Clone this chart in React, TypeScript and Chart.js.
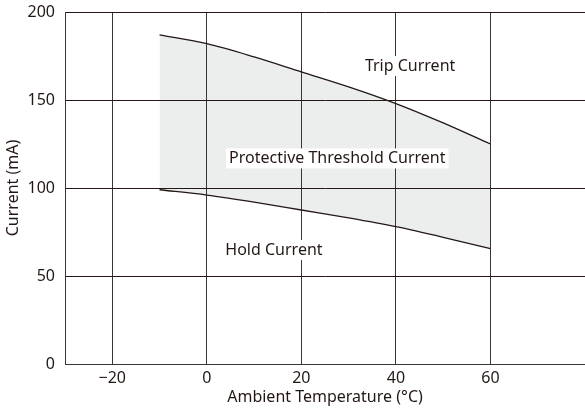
import React, { useEffect, useRef } from "react";
import { Chart, registerables } from "chart.js";

Chart.register(...registerables);

const temperatures = [-10, 0, 10, 20, 30, 40, 50, 60];
const tripCurrent = [187, 182, 174.5, 166, 157.5, 148, 137, 125];
const holdCurrent = [99, 96, 92, 87.5, 83, 78, 72, 65.5];
const xTicks = [-20, 0, 20, 40, 60];
const yTicks = [0, 50, 100, 150, 200];

const labelTexts = ["Trip Current", "Protective Threshold Current", "Hold Current"];
const labelX = [43, 27.6, 14.2];
const labelY = [169.3, 116.8, 64.8];

const FONT = "'Noto Sans', sans-serif";
const INK = "#231815";
const FS = 16;

const labelsPlugin = {
  id: "regionLabels",
  afterDatasetsDraw(chart: any) {
    const { ctx, scales } = chart;
    ctx.save();
    ctx.font = `${FS}px ${FONT}`;
    ctx.textAlign = "center";
    ctx.textBaseline = "middle";
    labelTexts.forEach((t, i) => {
      const px = scales.x.getPixelForValue(labelX[i]);
      const py = scales.y.getPixelForValue(labelY[i]);
      const w = ctx.measureText(t).width;
      ctx.fillStyle = "#ffffff";
      ctx.fillRect(px - w / 2 - 3, py - 10, w + 6, 20);
      ctx.fillStyle = INK;
      ctx.fillText(t, px, py);
    });
    ctx.restore();
  },
};

export default function App() {
  const ref = useRef<HTMLCanvasElement>(null);
  useEffect(() => {
    if (!ref.current) return;
    const chart = new Chart(ref.current, {
      type: "line",
      data: {
        datasets: [
          {
            label: "Trip Current",
            data: temperatures.map((t, i) => ({ x: t, y: tripCurrent[i] })),
            borderColor: INK,
            borderWidth: 1.3,
            pointRadius: 0,
            cubicInterpolationMode: "monotone",
            fill: "+1",
            backgroundColor: "#eceeed",
          },
          {
            label: "Hold Current",
            data: temperatures.map((t, i) => ({ x: t, y: holdCurrent[i] })),
            borderColor: INK,
            borderWidth: 1.3,
            pointRadius: 0,
            cubicInterpolationMode: "monotone",
            fill: false,
          },
        ],
      },
      options: {
        animation: false,
        responsive: false,
        maintainAspectRatio: false,
        layout: { padding: { top: 12, right: 0, left: 0, bottom: 0 } },
        plugins: {
          legend: { display: false },
          tooltip: { enabled: false },
          filler: { drawTime: "beforeDraw" } as any,
        },
        scales: {
          x: {
            type: "linear",
            min: -30,
            max: 80,
            afterBuildTicks: (s: any) => {
              s.ticks = xTicks.map((v) => ({ value: v }));
            },
            afterFit: (s: any) => {
              s.height = 48;
              s.paddingLeft = 0;
              s.paddingRight = 0;
            },
            grid: { color: "#3a3434", lineWidth: 1, drawTicks: false },
            border: { color: "#3a3434", width: 1 },
            ticks: {
              color: INK,
              font: { family: FONT, size: FS },
              padding: 5,
              callback: (v: any) => (Number(v) < 0 ? "\u2212" + Math.abs(Number(v)) : String(v)),
            },
            title: {
              display: true,
              text: "Ambient Temperature (\u00B0C)",
              color: INK,
              font: { family: FONT, size: FS },
              padding: { top: 0, bottom: 5 },
            },
          },
          y: {
            type: "linear",
            min: 0,
            max: 200,
            afterBuildTicks: (s: any) => {
              s.ticks = yTicks.map((v) => ({ value: v }));
            },
            afterFit: (s: any) => {
              s.width = 65;
              s.paddingTop = 0;
              s.paddingBottom = 0;
            },
            grid: { color: INK, lineWidth: 1, drawTicks: false },
            border: { color: "#3a3434", width: 1 },
            ticks: {
              color: INK,
              font: { family: FONT, size: FS },
              padding: 10,
            },
            title: {
              display: true,
              text: "Current (mA)",
              color: INK,
              font: { family: FONT, size: FS },
              padding: { top: 4, bottom: 0 },
            },
          },
        },
      },
      plugins: [labelsPlugin],
    });
    return () => chart.destroy();
  }, []);
  return (
    <div style={{ position: "fixed", left: 0, top: 0, width: 585, height: 412, background: "#fff" }}>
      <canvas ref={ref} width={585} height={412} style={{ width: 585, height: 412, display: "block" }} />
    </div>
  );
}
